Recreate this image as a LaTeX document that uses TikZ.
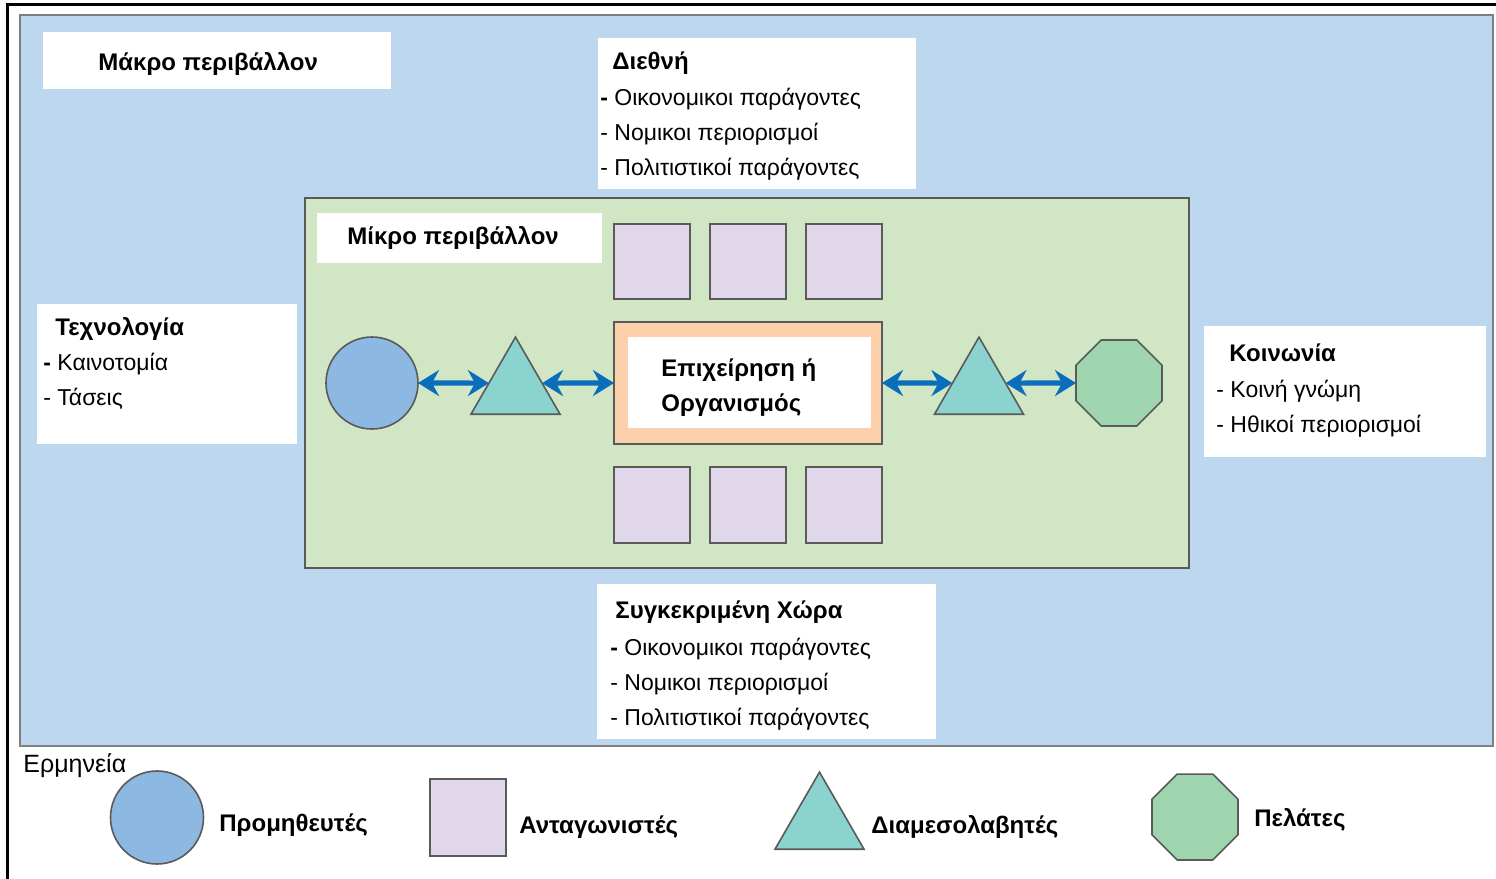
\documentclass[tikz,border=0pt]{standalone}
\usepackage{fontspec}
\setmainfont{Liberation Sans}
\usetikzlibrary{shapes.geometric,arrows.meta,fit,calc}
\definecolor{panelblue}{HTML}{BDD7EE}
\definecolor{panelline}{HTML}{7F7F7F}
\definecolor{microgreen}{HTML}{D1E6C5}
\definecolor{shapeline}{HTML}{5A5A5A}
\definecolor{compcol}{HTML}{E0D7EA}
\definecolor{peach}{HTML}{FBD0AA}
\definecolor{suppcol}{HTML}{8DB8E2}
\definecolor{intercol}{HTML}{8AD3CF}
\definecolor{custcol}{HTML}{9ED4AE}
\definecolor{arrowblue}{HTML}{0A6EBD}
\begin{document}
\begin{tikzpicture}[x=0.5pt,y=-0.5pt,
  wbox/.style={fill=white, inner sep=0pt, outer sep=0pt},
  ttl/.style={anchor=base west, inner sep=0pt, font=\fontsize{12}{14}\selectfont\bfseries},
  itm/.style={anchor=base west, inner sep=0pt, font=\fontsize{11.5}{14}\selectfont},
  comp/.style={fill=compcol, draw=shapeline, line width=0.8pt, inner sep=0pt, outer sep=0pt},
  supp/.style={circle, fill=suppcol, draw=shapeline, line width=0.8pt, minimum size=46pt, inner sep=0pt, outer sep=0pt},
  inter/.style={regular polygon, regular polygon sides=3, fill=intercol, draw=shapeline, line width=0.8pt, minimum size=51.4pt, inner sep=0pt, outer sep=0pt},
  cust/.style={regular polygon, regular polygon sides=8, fill=custcol, draw=shapeline, line width=0.8pt, minimum size=46.5pt, inner sep=0pt, outer sep=0pt},
  link/.style={{Stealth[length=10.5pt,width=13pt,inset=3.5pt]}-{Stealth[length=10.5pt,width=13pt,inset=3.5pt]}, line width=2.6pt, draw=arrowblue}
]
\useasboundingbox (0,0) rectangle (1496,879);
\fill[white] (0,0) rectangle (1496,879);
% outer frame
\draw[line width=1.5pt, black] (7,879) -- (7,4) -- (1496,4);
% macro panel
\node[fit={(20,15) (1493,746)}, fill=panelblue, draw=panelline, line width=1.2pt, inner sep=0pt, outer sep=0pt] (macro) {};
% white text boxes
\node[wbox, fit={(43,32) (391,89)}] (macrobox) {};
\node[ttl] (macrot) at (98,70) {Μάκρο περιβάλλον};
\node[wbox, fit={(598,38) (916,189)}] (intlbox) {};
\node[ttl] (intlt) at (612,69) {Διεθνή};
\node[itm] (intl1) at (600,105) {{\bfseries -} Οικονομικοι παράγοντες};
\node[itm] (intl2) at (600,140) {- Νομικοι περιορισμοί};
\node[itm] (intl3) at (600,175) {- Πολιτιστικοί παράγοντες};
\node[wbox, fit={(37,304) (297,444)}] (techbox) {};
\node[ttl] (techt) at (55,335) {Τεχνολογία};
\node[itm] (tech1) at (43,370) {{\bfseries -} Καινοτομία};
\node[itm] (tech2) at (43,405) {- Τάσεις};
\node[wbox, fit={(1204,326) (1486,457)}] (socbox) {};
\node[ttl] (soct) at (1229,361) {Κοινωνία};
\node[itm] (soc1) at (1216,397) {- Κοινή γνώμη};
\node[itm] (soc2) at (1216,432) {- Ηθικοί περιορισμοί};
\node[wbox, fit={(597,584) (936,739)}] (ctrybox) {};
\node[ttl] (ctryt) at (615,618) {Συγκεκριμένη Χώρα};
\node[itm] (ctry1) at (610,655) {{\bfseries -} Οικονομικοι παράγοντες};
\node[itm] (ctry2) at (610,690) {- Νομικοι περιορισμοί};
\node[itm] (ctry3) at (610,725) {- Πολιτιστικοί παράγοντες};
% micro panel
\node[fit={(305,198) (1189,568)}, fill=microgreen, draw=shapeline, line width=0.9pt, inner sep=0pt, outer sep=0pt] (micro) {};
\node[wbox, fit={(317,213) (602,263)}] (microbox) {};
\node[ttl] (microt) at (347,244) {Μίκρο περιβάλλον};
% competitors
\node[comp, fit={(614,224) (690,299)}] (c1) {};
\node[comp, fit={(710,224) (786,299)}] (c2) {};
\node[comp, fit={(806,224) (882,299)}] (c3) {};
\node[comp, fit={(614,467) (690,543)}] (c4) {};
\node[comp, fit={(710,467) (786,543)}] (c5) {};
\node[comp, fit={(806,467) (882,543)}] (c6) {};
% organisation
\node[fit={(614,322) (882,444)}, fill=peach, draw=shapeline, line width=0.8pt, inner sep=0pt, outer sep=0pt] (org) {};
\node[wbox, fit={(628,337) (871,428)}] (orgin) {};
\node[ttl] (org1) at (661,376) {Επιχείρηση ή};
\node[ttl] (org2) at (661,411) {Οργανισμός};
% chain
\node[supp] (sup) at (372,383) {};
\node[inter] (int1) at (515.5,388.5) {};
\node[inter] (int2) at (979,388.5) {};
\node[cust] (cus) at (1119,383) {};
\draw[link] (sup.east) -- ($(int1.corner 1)!0.597!(int1.corner 2)$);
\draw[link] ($(int1.corner 1)!0.597!(int1.corner 3)$) -- (org.west);
\draw[link] (org.east) -- ($(int2.corner 1)!0.597!(int2.corner 2)$);
\draw[link] ($(int2.corner 1)!0.597!(int2.corner 3)$) -- (cus.west);
% legend
\node[anchor=base west, inner sep=0pt, font=\fontsize{12.5}{14}\selectfont] (leg) at (23,772) {Ερμηνεία};
\node[supp, minimum size=46.5pt] (lsup) at (157,817.5) {};
\node[ttl] (lsupt) at (219,831) {Προμηθευτές};
\node[comp, fit={(430,779) (506,856)}] (lcomp) {};
\node[ttl] (lcompt) at (519,833) {Ανταγωνιστές};
\node[inter] (lint) at (819.5,823.5) {};
\node[ttl] (lintt) at (871,833) {Διαμεσολαβητές};
\node[cust] (lcus) at (1195,817) {};
\node[ttl] (lcust) at (1254,826) {Πελάτες};
\end{tikzpicture}
\end{document}
